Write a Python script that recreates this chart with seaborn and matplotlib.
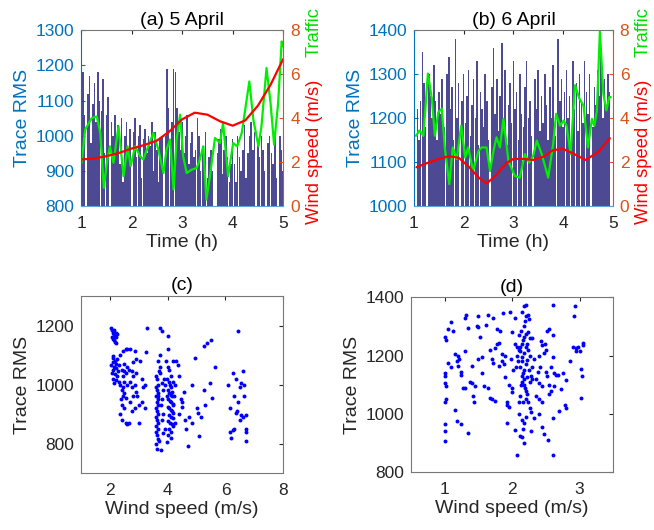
import numpy as np
import pandas as pd
import matplotlib
matplotlib.use("Agg")
import matplotlib.pyplot as plt
import seaborn as sns

# ---- data ----
# panel (a): Trace RMS bars every 2 min from 1 h to 5 h
trace_a = [1150, 1180, 1060, 790, 1120, 1170, 980, 1090, 1150, 1040,
           1180, 1100, 1070, 1160, 950, 1060, 1110, 790, 1040, 1000,
           1060, 980, 1030, 920, 1050, 870, 1000, 1040, 960, 1020,
           790, 1010, 1050, 940, 1000, 1030, 880, 990, 1020, 950,
           1000, 970, 1040, 900, 1010, 960, 870, 990, 1000, 790,
           1000, 1190, 1080, 960, 1040, 1190, 1180, 1080, 1010, 960,
           1040, 950, 1000, 1060, 920, 980, 1010, 940, 960, 1050,
           1000, 900, 970, 930, 1010, 880, 940, 960, 900, 790,
           790, 950, 990, 1020, 890, 960, 1000, 940, 870, 920,
           990, 920, 870, 1000, 940, 900, 960, 1030, 880, 950,
           1000, 1040, 960, 1010, 790, 990, 940, 1000, 960, 900,
           790, 980, 1000, 950, 920, 1010, 880, 790, 1000, 960, 900]
# panel (b): Trace RMS bars every 2 min from ~1.07 h to ~4.93 h
trace_b = [1220, 1150, 1240, 1350, 1280, 1180, 990, 1300, 1250, 1200,
           1320, 1240, 1150, 1260, 1210, 1290, 1180, 990, 1300, 1340,
           1220, 1270, 1150, 1380, 1200, 1280, 990, 1240, 1300, 1190,
           1250, 1310, 1160, 1230, 1290, 1200, 1330, 1140, 1260, 1220,
           1180, 1300, 1240, 1150, 990, 1270, 1360, 1210, 1290, 1170,
           1250, 1370, 1200, 1310, 1140, 1230, 1280, 1190, 1330, 1220,
           1260, 1150, 1300, 1210, 1180, 1270, 1330, 1200, 1240, 1160,
           990, 1290, 1220, 1310, 1170, 1250, 1190, 1300, 1230, 1150,
           1270, 1200, 1320, 1160, 990, 1380, 1240, 1290, 1180, 1260,
           1310, 1200, 1250, 1150, 1330, 1220, 1280, 1170, 1300, 1240,
           1190, 1330, 1260, 1210, 1300, 990, 1180, 1270, 1230, 1310,
           1250, 1360, 1200, 1290, 1220, 1300, 1260]
t_bar_a = [1 + i / 30 for i in range(len(trace_a))]
t_bar_b = [1 + (i + 2) / 30 for i in range(len(trace_b))]

wind_a_t = [1.0, 1.25, 1.5, 1.75, 2.0, 2.25, 2.5, 2.75, 3.0, 3.25, 3.5, 3.75, 4.0, 4.25, 4.5, 4.75, 5.0]
wind_a = [2.12, 2.17, 2.27, 2.42, 2.62, 2.78, 2.98, 3.4, 3.95, 4.25, 4.16, 3.86, 3.66, 3.9, 4.57, 5.52, 6.69]

traffic_a_t = [1.01, 1.08, 1.21, 1.31, 1.38, 1.45, 1.51, 1.57, 1.64, 1.74, 1.84, 1.92, 1.98, 2.07, 2.17,
               2.23, 2.33, 2.43, 2.53, 2.63, 2.69, 2.76, 2.83, 2.89, 2.96, 3.02, 3.09, 3.19, 3.29, 3.35,
               3.42, 3.48, 3.55, 3.65, 3.75, 3.81, 3.91, 4.01, 4.09, 4.18, 4.33, 4.41, 4.51, 4.57, 4.67,
               4.75, 4.82, 4.90, 4.97, 5.0]
traffic_a = [1.97, 3.48, 4.0, 4.08, 3.33, 0.83, 1.97, 2.72, 1.97, 3.63, 1.36, 2.72, 1.82, 2.72, 2.27,
             2.12, 2.72, 3.33, 2.57, 1.51, 2.57, 3.03, 0.76, 3.03, 4.16, 2.27, 1.51, 1.66, 1.74, 2.12,
             2.72, 0.30, 1.36, 3.1, 2.87, 3.78, 1.36, 2.87, 2.72, 3.33, 5.67, 3.93, 2.72, 3.63, 6.28,
             4.69, 2.8, 4.69, 7.49, 7.26]

wind_b_t = [1.05, 1.25, 1.5, 1.7, 1.9, 2.1, 2.3, 2.46, 2.65, 2.85, 3.0, 3.2, 3.4, 3.6, 3.8, 4.0, 4.2, 4.45, 4.7, 4.94]
wind_b = [1.77, 1.95, 2.15, 2.27, 2.2, 1.8, 1.3, 1.03, 1.4, 1.95, 2.15, 2.15, 2.1, 2.25, 2.55, 2.6, 2.4, 2.1, 2.45, 3.09]

traffic_b_t = [1.04, 1.11, 1.19, 1.28, 1.36, 1.42, 1.49, 1.56, 1.62, 1.71, 1.78, 1.86, 1.95, 2.03, 2.09,
               2.19, 2.30, 2.36, 2.46, 2.53, 2.60, 2.66, 2.73, 2.80, 2.90, 3.03, 3.13, 3.23, 3.32, 3.40,
               3.47, 3.57, 3.70, 3.80, 3.86, 3.94, 4.01, 4.07, 4.15, 4.24, 4.33, 4.41, 4.50, 4.58, 4.63,
               4.68, 4.74, 4.81, 4.87, 4.93, 4.96]
traffic_b = [3.2, 3.44, 3.2, 6.03, 4.88, 3.2, 4.27, 4.43, 2.67, 1.0, 2.67, 2.14, 3.66, 2.21, 2.67,
             1.6, 2.52, 2.67, 2.67, 1.6, 2.52, 3.13, 2.67, 3.97, 2.06, 1.37, 1.3, 2.37, 1.98, 2.29,
             2.98, 2.37, 1.3, 2.82, 4.2, 3.66, 3.89, 3.66, 2.37, 5.5, 4.88, 4.58, 2.67, 3.97, 3.66,
             4.35, 7.94, 5.11, 4.35, 4.96, 4.96]

# panel (c): wind speed vs trace RMS, 5 April
wind_c = [2.05, 2.08, 2.1, 2.12, 2.15, 2.18, 2.2, 2.22, 2.1, 2.13, 2.17, 2.08, 2.2, 2.15, 2.25,
          2.1, 2.12, 2.18, 2.2, 2.05, 2.15, 2.22, 2.1, 2.28, 2.08, 2.18, 2.25, 2.12, 2.2, 2.3,
          2.15, 2.35, 2.1, 2.3, 2.25,
          2.35, 2.45, 2.55, 2.6, 2.4, 2.5, 2.45, 2.55, 2.6, 2.4, 2.45, 2.5, 2.38, 2.42, 2.5,
          2.35, 2.4, 2.55, 2.6, 2.65, 2.5, 2.45, 2.55, 2.6, 2.48,
          2.7, 2.85, 2.8, 2.9, 2.75, 2.65, 2.8, 2.7, 2.75, 2.85, 2.9, 2.8, 2.7, 2.95, 2.85,
          3.0, 2.75, 3.0, 2.9, 3.05, 3.1, 3.15, 3.2, 3.25, 3.2, 3.1, 3.3,
          3.6, 3.62, 3.65, 3.6, 3.63, 3.67, 3.6, 3.65, 3.62, 3.68, 3.6, 3.64, 3.66, 3.6, 3.63,
          3.67, 3.61, 3.65, 3.6, 3.63, 3.66, 3.6, 3.62, 3.76, 3.7, 3.68, 3.65, 3.72, 3.7, 3.75,
          3.8, 3.72, 3.75, 3.8, 3.85, 3.8, 3.78, 3.85, 3.8, 3.9, 3.82, 3.88, 3.9,
          3.95, 4.0, 4.05, 4.1, 3.98, 4.03, 4.08, 4.12, 4.0, 4.05, 4.1, 4.15, 4.02, 4.08, 4.13,
          4.18, 4.0, 4.05, 4.1, 4.15, 4.2, 4.03, 4.1, 4.17, 4.0, 4.08, 4.15, 4.2, 4.05, 4.12,
          4.0, 4.1, 3.98, 4.0, 4.02, 4.2, 4.25, 4.22, 4.2, 4.25, 4.18, 3.97, 4.15,
          4.3, 4.35, 4.45, 4.4, 4.55, 4.5, 4.6, 4.65, 4.7, 4.75, 4.85, 4.85, 4.95, 5.0, 5.05,
          5.1, 5.15, 4.4, 4.5,
          5.25, 5.35, 5.5, 5.45, 5.25, 5.3, 5.55, 5.65,
          6.1, 6.15, 6.15, 6.2, 6.25, 6.3, 6.35, 6.35, 6.4, 6.45, 6.45, 6.5, 6.55, 6.55, 6.6,
          6.6, 6.65, 6.7, 6.7, 6.7, 6.65, 6.5, 6.3, 6.25, 6.72]
rms_c = [1190, 1185, 1175, 1180, 1170, 1165, 1175, 1160, 1155, 1150, 1145, 1160, 1140, 1185, 1170,
         1095, 1090, 1080, 1070, 1065, 1060, 1055, 1050, 1045, 1040, 1035, 1030, 1020, 1015, 1010,
         1005, 1000, 1075, 1065, 1085,
         1100, 1115, 1120, 1120, 1050, 1045, 1030, 1040, 1000, 980, 990, 970, 950, 930, 920,
         900, 880, 870, 865, 870, 1010, 960, 955, 1060, 1070,
         1120, 1115, 1075, 1085, 1045, 1050, 1030, 1010, 990, 1000, 975, 960, 940, 960, 920,
         930, 910, 870, 1040, 1080, 1020, 990, 1000, 1110, 920, 940, 1190,
         1030, 1020, 1000, 990, 980, 970, 960, 950, 940, 930, 920, 910, 900, 890, 880,
         870, 860, 850, 840, 830, 815, 800, 780, 778, 810, 960, 1080, 1060, 1045, 1190,
         1180, 1100, 1040, 1005, 980, 950, 930, 900, 880, 850, 835, 1020, 1000,
         1080, 1060, 1050, 1030, 1020, 1010, 1000, 990, 980, 970, 965, 960, 950, 945, 940,
         935, 925, 920, 915, 910, 905, 895, 890, 885, 875, 870, 865, 860, 850, 840,
         830, 820, 805, 1165, 1120, 1080, 1000, 960, 930, 870, 1010, 960, 975,
         1080, 1065, 950, 900, 975, 940, 880, 850, 790, 890, 1000, 870, 1090, 920, 905,
         825, 890, 1030, 925,
         1130, 1140, 1150, 1005, 980, 930, 955, 1060,
         1000, 920, 840, 820, 1040, 960, 1020, 905, 910, 940, 1180, 990, 1005, 895, 890,
         1045, 1000, 895, 850, 810, 960, 880, 850, 845, 840]

# panel (d): wind speed vs trace RMS, 6 April
wind_d = [1.0, 1.02, 1.0, 1.01, 1.0, 1.02, 1.02, 1.0, 1.0, 1.0, 1.0,
          1.05, 1.1, 1.12, 1.05, 1.1, 1.15, 1.2, 1.18, 1.22, 1.25, 1.25, 1.27, 1.3, 1.2,
          1.15, 1.18, 1.25, 1.3, 1.3, 1.32, 1.35, 1.35, 1.38, 1.4, 1.4, 1.45, 1.42, 1.43,
          1.5, 1.48, 1.52, 1.5, 1.55, 1.55, 1.58, 1.5, 1.62, 1.65, 1.68, 1.7, 1.7, 1.72,
          1.68, 1.75, 1.78, 1.8, 1.72, 1.78, 1.82, 1.85, 1.85, 1.88, 1.75, 1.65, 1.8, 1.86,
          1.9, 1.9, 1.92, 1.93, 1.95, 1.92, 1.95, 1.97, 1.98, 2.0, 2.02, 2.0, 2.0, 2.05,
          2.05, 2.05, 2.08, 2.1, 2.07, 2.09, 2.06,
          2.08, 2.1, 2.12, 2.1, 2.15, 2.12, 2.14, 2.17, 2.16, 2.18, 2.2, 2.13, 2.15, 2.17,
          2.19, 2.2, 2.22, 2.14, 2.16, 2.18, 2.12, 2.2, 2.22, 2.15, 2.18, 2.12, 2.14, 2.16,
          2.18, 2.2, 2.13, 2.17, 2.19, 2.21, 2.15, 2.17, 2.2, 2.23, 2.25, 2.24, 2.26, 2.22,
          2.24, 2.27, 2.25, 2.28, 2.26, 2.24, 2.26, 2.28, 2.3, 2.3, 2.32, 2.3, 2.28, 2.33,
          2.35, 2.12, 2.14, 2.16, 2.2, 2.18, 2.22, 2.2, 2.1,
          2.38, 2.4, 2.42, 2.45, 2.45, 2.48, 2.5, 2.47, 2.52, 2.55, 2.5, 2.52, 2.55, 2.57,
          2.4, 2.45, 2.47, 2.53, 2.45, 2.58, 2.6, 2.6, 2.6, 2.62, 2.6, 2.6, 2.62, 2.4,
          2.35, 2.4, 2.43, 2.55,
          2.65, 2.68, 2.72, 2.75, 2.7, 2.78, 2.8, 2.8, 2.85, 2.9, 2.93, 2.92, 2.95, 2.98,
          3.0, 3.02, 3.03, 3.05, 3.05, 3.02, 2.95]
rms_d = [1265, 1255, 1140, 1130, 1105, 1095, 1050, 1040, 965, 940, 908,
         1290, 1315, 1285, 1175, 1160, 1205, 1200, 1180, 1190, 1145, 1135, 1090, 1090, 1165,
         1015, 975, 965, 1215, 1330, 1340, 935, 1295, 1110, 1165, 1105, 1095, 1060, 1040,
         1298, 1300, 1265, 1190, 1195, 1140, 1095, 1335, 1305, 1090, 1055, 1050, 1190, 1175,
         1220, 1225, 1240, 1245, 1330, 1290, 1285, 1180, 1205, 1170, 1045, 1340, 1165, 1345,
         1200, 1125, 1040, 1030, 1025, 970, 1100, 1350, 1190, 1280, 1150, 1090, 1075, 945,
         1330, 1240, 1230, 1220, 1200, 1180, 1160,
         860, 1040, 1060, 1000, 980, 925, 920, 900, 950, 970, 990, 1100, 1110, 1120,
         1090, 1080, 1070, 1130, 1140, 1150, 1160, 1170, 1185, 1195, 1210, 1230, 1240, 1255,
         1265, 1275, 1285, 1300, 1320, 1335, 1350, 1370, 1375, 1340, 1325, 1280, 1260, 1240,
         1220, 1200, 1150, 1130, 1110, 1040, 1020, 1005, 1120, 1160, 1190, 1260, 940, 985,
         1120, 1215, 1180, 1040, 1050, 1100, 1125, 1230, 1270,
         1145, 1105, 1160, 1095, 1235, 1240, 1220, 1210, 1285, 1290, 1145, 1130, 1100, 1080,
         1050, 1040, 930, 910, 955, 1160, 1375, 1270, 1195, 1140, 985, 860, 1095, 1000,
         1060, 1200, 1250, 1070,
         1135, 1135, 1085, 1140, 1010, 1030, 1020, 1115, 1180, 1230, 1370, 1335, 1225, 1230,
         1215, 1155, 1130, 1245, 1235, 1055, 1215]

# ---- figure ----
sns.set_style("white")
plt.rcParams['font.family'] = ['Liberation Sans', 'DejaVu Sans']
plt.rcParams['axes.linewidth'] = 0.8

blue = '#0072BD'
orange = '#D95319'
dark = '#262626'
barcol = '#3a3587'
TICK = 12.5
LAB = 14
RLAB = 13.2

fig = plt.figure(figsize=(6.54, 5.3), dpi=100)


def top_panel(rect, t_bar, trace, ylim, yticks, wt, w, tt, tr, title):
    ax = fig.add_axes(rect)
    ax.bar(t_bar, np.array(trace) - ylim[0], bottom=ylim[0], width=0.03,
           color=barcol, alpha=0.9, linewidth=0)
    ax.set_xlim(1, 5)
    ax.set_ylim(*ylim)
    ax.set_yticks(yticks)
    ax.set_xticks([1, 2, 3, 4, 5])
    ax.tick_params(axis='y', colors=blue, labelsize=TICK, direction='in', length=3, pad=5)
    ax.tick_params(axis='x', colors=dark, labelsize=TICK, direction='in', length=3,
                   top=True, pad=7)
    ax.set_ylabel('Trace RMS', color=blue, fontsize=LAB, labelpad=3)
    ax.set_xlabel('Time (h)', color=dark, fontsize=LAB, labelpad=2)
    ax.set_title(title, color='black', fontsize=LAB, pad=4)

    ax2 = ax.twinx()
    sns.lineplot(x=tt, y=tr, ax=ax2, color='#00ee00', linewidth=1.6, sort=False)
    sns.lineplot(x=wt, y=w, ax=ax2, color='red', linewidth=1.6, sort=False)
    ax2.set_ylim(0, 8)
    ax2.set_yticks([0, 2, 4, 6, 8])
    ax2.tick_params(axis='y', colors=orange, labelsize=TICK, direction='in', length=3, pad=5)
    ax2.set_ylabel('')
    ax2.spines['right'].set_color(orange)
    ax2.spines['left'].set_color(blue)
    ax2.spines['bottom'].set_color('#5ba3d9')
    ax2.spines['top'].set_color('#777777')
    for s in ax.spines.values():
        s.set_visible(False)
    ax.text(1.155, -0.10, 'Wind speed (m/s)', color='red', rotation=90, fontsize=RLAB,
            ha='center', va='bottom', transform=ax.transAxes)
    ax.text(1.155, 0.85, 'Traffic', color='#00dd00', rotation=90, fontsize=RLAB,
            ha='center', va='bottom', transform=ax.transAxes)
    return ax


top_panel([0.124, 0.611, 0.309, 0.332], t_bar_a, trace_a, (800, 1300),
          [800, 900, 1000, 1100, 1200, 1300], wind_a_t, wind_a, traffic_a_t, traffic_a,
          '(a) 5 April')
top_panel([0.633, 0.611, 0.304, 0.332], t_bar_b, trace_b, (1000, 1400),
          [1000, 1100, 1200, 1300, 1400], wind_b_t, wind_b, traffic_b_t, traffic_b,
          '(b) 6 April')


def bottom_panel(rect, wx, ry, xlim, xticks, ylim, yticks, title):
    ax = fig.add_axes(rect)
    df = pd.DataFrame({'wind': wx, 'rms': ry})
    sns.scatterplot(data=df, x='wind', y='rms', ax=ax, color='blue', s=8,
                    linewidth=0, marker='o')
    ax.set_xlim(*xlim)
    ax.set_ylim(*ylim)
    ax.set_xticks(xticks)
    ax.set_yticks(yticks)
    ax.tick_params(colors=dark, labelsize=TICK, direction='in', length=3,
                   top=True, right=True, pad=5)
    ax.tick_params(axis='x', pad=7)
    for s in ax.spines.values():
        s.set_color('#777777')
    ax.set_xlabel('Wind speed (m/s)', color=dark, fontsize=LAB, labelpad=2)
    ax.set_ylabel('Trace RMS', color=dark, fontsize=LAB, labelpad=3)
    ax.set_title(title, color='black', fontsize=LAB, pad=4)
    return ax


bottom_panel([0.124, 0.1075, 0.309, 0.334], wind_c, rms_c, (1, 8), [2, 4, 6, 8],
             (700, 1300), [800, 1000, 1200], '(c)')
bottom_panel([0.628, 0.109, 0.310, 0.330], wind_d, rms_d, (0.5, 3.5), [1, 2, 3],
             (800, 1400), [800, 1000, 1200, 1400], '(d)')

fig.savefig('out.png', dpi=100)
